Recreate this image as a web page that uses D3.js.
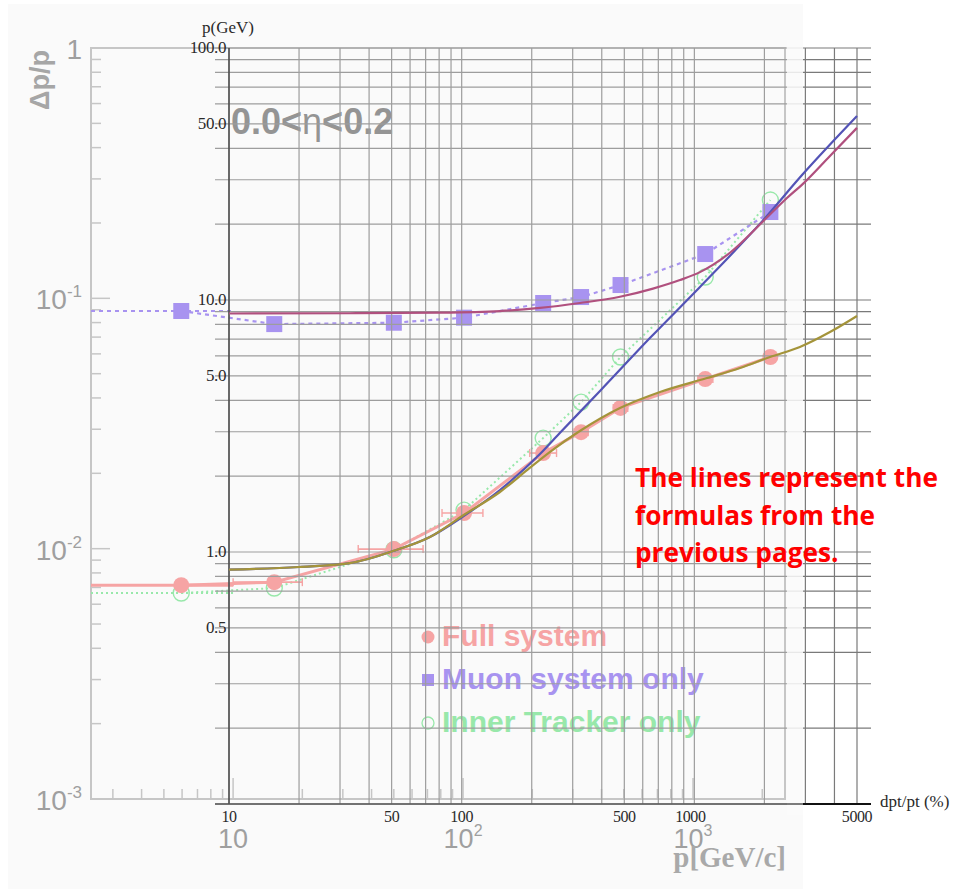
<!DOCTYPE html>
<html>
<head>
<meta charset="utf-8">
<script src="https://cdn.jsdelivr.net/npm/d3@7"></script>
<style>
  body { margin: 0; background: #fff; }
  svg { display: block; }
</style>
</head>
<body>
<script>
// ---- Measured resolution (Δp/p) per momentum bin, 0.0<η<0.2 ----
const binMomentum = [5.95, 15.1, 50, 101, 223, 326, 484, 1130, 2170];
const binLow      = [2.41, 10, 35, 81, 195, 300, 450, 1050, 2050];
const binHigh     = [10, 20, 67, 122, 255, 350, 520, 1220, 2300];
const fullSystem  = [0.00715, 0.00735, 0.00996, 0.01388, 0.0241, 0.0292, 0.0365, 0.0476, 0.0583];
const muonOnly    = [0.0890, 0.0789, 0.0799, 0.0837, 0.0958, 0.1012, 0.1130, 0.1503, 0.2212];
const trackerOnly = [0.00665, 0.00696, 0.0099, 0.01426, 0.02765, 0.0385, 0.0583, 0.1216, 0.247];

// ---- Parametrised resolution curves: dpt/pt (%) against p (GeV) ----
const muonCurveP     = [10, 33, 81, 146, 217, 322, 479, 664, 867, 1057, 1422, 1972, 2500, 2928, 3826, 5000];
const muonCurveRes   = [8.84, 8.86, 8.91, 9.04, 9.30, 9.73, 10.3, 11.1, 12.0, 12.9, 15.4, 20.5, 25.4, 28.9, 37.3, 48.2];
const trackCurveP    = [10, 20, 33, 50.7, 73, 102, 146, 217, 264, 393, 644, 1057, 1972, 2928, 5000];
const trackCurveRes  = [0.852, 0.872, 0.904, 1.009, 1.147, 1.389, 1.762, 2.448, 2.966, 4.353, 7.06, 11.26, 20.7, 31.6, 53.7];
const combCurveP     = [10, 20, 33, 50.7, 73, 102, 146, 196, 239, 322, 479, 712, 1133, 1571, 2113, 2841, 3826, 5000];
const combCurveRes   = [0.852, 0.872, 0.904, 1.009, 1.147, 1.402, 1.730, 2.155, 2.493, 3.021, 3.726, 4.315, 4.90, 5.37, 5.94, 6.51, 7.46, 8.64];

// ---- Tick labels and texts ----
const pTickLabels    = [10, 50, 100, 500, 1000, 5000];
const resTickLabels  = [100, 50, 10, 5, 1, 0.5];
const bgYLabels      = [1, 0.1, 0.01, 0.001];
const bgXLabels      = [10, 100, 1000];
const legendLabels   = ["Full system", "Muon system only", "Inner Tracker only"];
const noteLines      = ["The lines represent the", "formulas from the", "previous pages."];

const W = 953, H = 892;
const svg = d3.select("body").append("svg").attr("width", W).attr("height", H);

// ---- scales ----
// faded measurement plot
const bx = d3.scaleLog().domain([2.41, 2512]).range([91, 785]);
const by = d3.scaleLog().domain([0.001, 1]).range([799, 48]);
// overlaid grid
const ox = d3.scaleLog().domain([10, 5000]).range([229, 857]);
const oy = d3.scaleLog().domain([0.1, 100]).range([804, 48]);

const PANEL = { x: 8, y: 4, w: 795, h: 885 };

// ================= faded measurement plot =================
const bg = svg.append("g");
bg.append("rect").attr("x", PANEL.x).attr("y", PANEL.y).attr("width", PANEL.w).attr("height", PANEL.h)
  .attr("fill", "#fafafa");

const frameColor = "#c6c6c6";
bg.append("rect").attr("x", bx.range()[0]).attr("y", by.range()[1])
  .attr("width", bx.range()[1] - bx.range()[0]).attr("height", by.range()[0] - by.range()[1])
  .attr("fill", "none").attr("stroke", frameColor).attr("stroke-width", 2);

const isDecade = v => Math.abs(Math.log10(v) - Math.round(Math.log10(v))) < 1e-6;

by.ticks().forEach(v => {
  const y = by(v);
  bg.append("line").attr("x1", bx.range()[0]).attr("x2", bx.range()[0] + (isDecade(v) ? 19 : 10))
    .attr("y1", y).attr("y2", y).attr("stroke", frameColor).attr("stroke-width", 1.5);
});
bx.ticks().forEach(v => {
  const x = bx(v);
  bg.append("line").attr("x1", x).attr("x2", x)
    .attr("y1", by.range()[0]).attr("y2", by.range()[0] - (isDecade(v) ? 21 : 10))
    .attr("stroke", frameColor).attr("stroke-width", 1.5);
});

const bgText = "#9f9f9f";
bgYLabels.forEach(v => {
  const e = Math.round(Math.log10(v));
  const t = bg.append("text").attr("x", 82).attr("y", by(v) + 11)
    .attr("text-anchor", "end").attr("font-family", "Liberation Sans, Arial, sans-serif")
    .attr("font-size", 28).attr("fill", bgText);
  if (e === 0) t.text("1");
  else {
    t.append("tspan").text("10");
    t.append("tspan").attr("dy", -12).attr("font-size", 17).text(e);
  }
});
bgXLabels.forEach(v => {
  const e = Math.round(Math.log10(v));
  const t = bg.append("text").attr("x", bx(v)).attr("y", 848)
    .attr("text-anchor", "middle").attr("font-family", "Liberation Sans, Arial, sans-serif")
    .attr("font-size", 27).attr("fill", bgText);
  t.append("tspan").text("10");
  if (e > 1) t.append("tspan").attr("dy", -12).attr("font-size", 16).text(e);
});

bg.append("text").attr("transform", "translate(49,50) rotate(-90)")
  .attr("text-anchor", "end").attr("font-family", "Liberation Sans, Arial, sans-serif")
  .attr("font-weight", "bold").attr("font-size", 27).attr("fill", "#a6a6a6").text("Δp/p");

bg.append("text").attr("x", 786).attr("y", 867).attr("text-anchor", "end")
  .attr("font-family", "Liberation Serif, Times New Roman, serif").attr("font-weight", "bold")
  .attr("font-size", 29).attr("fill", "#a9a9a9").text("p[GeV/c]");

const title = bg.append("text").attr("x", 231).attr("y", 134)
  .attr("font-family", "Liberation Sans, Arial, sans-serif").attr("font-weight", "bold")
  .attr("font-size", 36).attr("fill", "#949494");
title.append("tspan").text("0.0<");
title.append("tspan").attr("font-weight", "normal").text("η");
title.append("tspan").text("<0.2");

// series styles
const series = [
  { values: trackerOnly, color: "#98e8aa", width: 2,   dash: "2,3", marker: "open",   errAll: false },
  { values: muonOnly,    color: "#a893f0", width: 2.2, dash: "4,4", marker: "square", errAll: false },
  { values: fullSystem,  color: "#f6a4a4", width: 3,   dash: null,  marker: "circle", errAll: true  }
];

series.forEach(s => {
  const g = bg.append("g");
  const idx = d3.range(binMomentum.length);
  const line = d3.line().x(i => bx(binMomentum[i])).y(i => by(s.values[i]));
  // horizontal bin-width bars
  idx.filter(i => s.errAll || i === 0).forEach(i => {
    const y = by(s.values[i]);
    g.append("line").attr("x1", bx(binLow[i])).attr("x2", bx(binHigh[i]))
      .attr("y1", y).attr("y2", y).attr("stroke", s.color)
      .attr("stroke-width", i === 0 ? s.width : 1.6)
      .attr("stroke-dasharray", s.dash);
    if (s.errAll && i > 0) {
      [binLow[i], binHigh[i]].forEach(p => {
        g.append("line").attr("x1", bx(p)).attr("x2", bx(p)).attr("y1", y - 4).attr("y2", y + 4)
          .attr("stroke", s.color).attr("stroke-width", 1.4);
      });
    }
  });
  g.append("path").attr("d", line(idx)).attr("fill", "none")
    .attr("stroke", s.color).attr("stroke-width", s.width)
    .attr("stroke-dasharray", s.dash);
  idx.forEach(i => {
    const x = bx(binMomentum[i]), y = by(s.values[i]);
    if (s.marker === "circle") {
      g.append("circle").attr("cx", x).attr("cy", y).attr("r", 8).attr("fill", s.color);
    } else if (s.marker === "square") {
      g.append("rect").attr("x", x - 8).attr("y", y - 8).attr("width", 16).attr("height", 16).attr("fill", s.color);
    } else {
      g.append("circle").attr("cx", x).attr("cy", y).attr("r", 8).attr("fill", "none")
        .attr("stroke", s.color).attr("stroke-width", 1.4);
    }
  });
});

// legend
const legendColors = ["#f6a4a4", "#a893f0", "#98e8aa"];
const legendMarkers = ["circle", "square", "open"];
legendLabels.forEach((lab, i) => {
  const y = 646 + i * 43;
  const mx = 428, my = y - 9;
  if (legendMarkers[i] === "circle") {
    bg.append("circle").attr("cx", mx).attr("cy", my).attr("r", 6.5).attr("fill", legendColors[i]);
  } else if (legendMarkers[i] === "square") {
    bg.append("rect").attr("x", mx - 6).attr("y", my - 6).attr("width", 12).attr("height", 12).attr("fill", legendColors[i]);
  } else {
    bg.append("circle").attr("cx", mx).attr("cy", my).attr("r", 6).attr("fill", "none")
      .attr("stroke", legendColors[i]).attr("stroke-width", 1.3);
  }
  bg.append("text").attr("x", 442).attr("y", y)
    .attr("font-family", "Liberation Sans, Arial, sans-serif").attr("font-weight", "bold")
    .attr("font-size", 29).attr("fill", legendColors[i])
    .attr("transform", `translate(442,0) scale(1.035,1) translate(-442,0)`).text(lab);
});

// ================= overlaid grid =================
const defs = svg.append("defs");
defs.append("clipPath").attr("id", "inPanel").append("rect")
  .attr("x", PANEL.x).attr("y", PANEL.y).attr("width", PANEL.w).attr("height", PANEL.h);
defs.append("clipPath").attr("id", "outPanel").append("rect")
  .attr("x", PANEL.x + PANEL.w).attr("y", 0).attr("width", W).attr("height", H);

function drawGrid(g, color) {
  oy.ticks().forEach(v => {
    g.append("line").attr("x1", 215).attr("x2", 871).attr("y1", oy(v)).attr("y2", oy(v))
      .attr("stroke", color).attr("stroke-width", 1.2);
  });
  ox.ticks().forEach(v => {
    g.append("line").attr("x1", ox(v)).attr("x2", ox(v)).attr("y1", oy.range()[1]).attr("y2", oy.range()[0])
      .attr("stroke", color).attr("stroke-width", 1.2);
  });
}
drawGrid(svg.append("g").attr("clip-path", "url(#inPanel)"), "#9d9d9d");
drawGrid(svg.append("g").attr("clip-path", "url(#outPanel)"), "#7a7a7a");

// soft strip along the right edge of the measurement panel
svg.append("rect").attr("x", 787).attr("y", 40).attr("width", PANEL.x + PANEL.w - 787).attr("height", 775)
  .attr("fill", "#fbfbfb").attr("opacity", 0.8);

// axis lines
svg.append("line").attr("x1", ox.range()[0]).attr("x2", ox.range()[0])
  .attr("y1", oy.range()[1]).attr("y2", oy.range()[0]).attr("stroke", "#3a3a3a").attr("stroke-width", 1.3);
svg.append("line").attr("x1", 215).attr("x2", PANEL.x + PANEL.w).attr("y1", oy.range()[0]).attr("y2", oy.range()[0])
  .attr("stroke", "#555").attr("stroke-width", 1.4);
svg.append("line").attr("x1", PANEL.x + PANEL.w).attr("x2", 871).attr("y1", oy.range()[0]).attr("y2", oy.range()[0])
  .attr("stroke", "#111").attr("stroke-width", 1.8);

// ================= resolution curves =================
const curves = [
  { p: trackCurveP, r: trackCurveRes, color: "#5353b6" },
  { p: combCurveP,  r: combCurveRes,  color: "#a4943a" },
  { p: muonCurveP,  r: muonCurveRes,  color: "#b0507e" }
];
curves.forEach(c => {
  const line = d3.line().x(i => ox(c.p[i])).y(i => oy(c.r[i])).curve(d3.curveMonotoneX);
  svg.append("path").attr("d", line(d3.range(c.p.length))).attr("fill", "none")
    .attr("stroke", c.color).attr("stroke-width", 2.2);
});

// ================= overlay labels =================
const serif = "Liberation Serif, Times New Roman, serif";
resTickLabels.forEach(v => {
  svg.append("text").attr("x", 226).attr("y", oy(v) + 5).attr("text-anchor", "end")
    .attr("font-family", serif).attr("font-size", 17).attr("fill", "#2a2a2a")
    .attr("letter-spacing", -0.4).text(d3.format(".1f")(v));
});
pTickLabels.forEach(v => {
  svg.append("text").attr("x", ox(v) - (v === 1000 ? 4 : 0)).attr("y", 822).attr("text-anchor", "middle")
    .attr("font-family", serif).attr("font-size", 16).attr("fill", "#2a2a2a")
    .attr("letter-spacing", -0.4).text(v);
});
svg.append("text").attr("x", 228).attr("y", 33).attr("text-anchor", "middle")
  .attr("font-family", serif).attr("font-size", 17).attr("fill", "#2a2a2a").text("p(GeV)");
svg.append("text").attr("x", 880).attr("y", 807)
  .attr("font-family", serif).attr("font-size", 17).attr("fill", "#2a2a2a").text("dpt/pt (%)");

// ================= note =================
const note = svg.append("g").attr("font-family", "Open Sans, Noto Sans, sans-serif")
  .attr("font-weight", "bold").attr("fill", "#ff0000");
const noteText = noteLines.map((t, i) =>
  note.append("text").attr("x", 635).attr("y", 487 + i * 37.5).attr("font-size", 26).text(t));
// size the note so its first line spans the space right of the curves
const firstLen = noteText[0].node().getComputedTextLength();
const noteSize = 26 * 303 / firstLen;
noteText.forEach(t => t.attr("font-size", noteSize));
</script>
</body>
</html>
